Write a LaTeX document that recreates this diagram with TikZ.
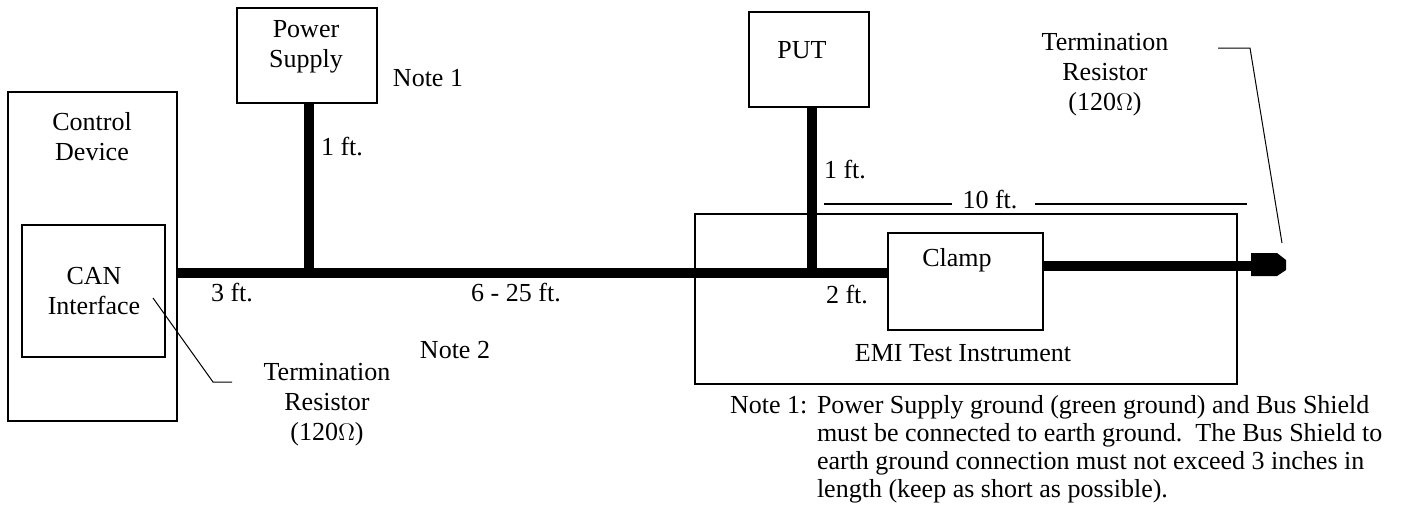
\documentclass[tikz,border=0pt]{standalone}
\usepackage{fontspec}
\setmainfont{Liberation Serif}
\begin{document}
\begin{tikzpicture}[x=0.5pt,y=-0.5pt,
  every node/.style={inner sep=0pt, outer sep=0pt, font=\fontsize{13pt}{15pt}\selectfont},
  box/.style={draw, line width=1.4pt},
  lbl/.style={align=center},
  bus/.style={line width=5pt, line cap=butt},
  dimline/.style={line width=1pt},
  leader/.style={line width=0.5pt}]
\useasboundingbox (0,0) rectangle (1413,510);

% boxes
\node[box, minimum width=84.5pt, minimum height=164.5pt] (ctrl) at (92.5,256.5) {};
\node[box, minimum width=71.5pt, minimum height=66pt] (can) at (93.5,291) {};
\node[box, minimum width=70pt, minimum height=47.5pt] (psu) at (307,55.5) {};
\node[box, minimum width=60pt, minimum height=47.5pt] (put) at (809,59.5) {};
\node[box, minimum width=271pt, minimum height=85pt] (emi) at (966,299) {};
\node[box, minimum width=77.5pt, minimum height=48.5pt, fill=white] (clamp) at (965.5,281.5) {};

% junctions
\coordinate (j1) at (309,273);
\coordinate (j2) at (812,273);
\coordinate (conn) at (1251,266);

% bus
\draw[bus] (ctrl.east |- j1) -- (clamp.west |- j1);
\draw[bus] (j1 |- psu.south) -- (j1);
\draw[bus] (j2 |- put.south) -- (j2);
\draw[bus] (clamp.east |- conn) -- (conn);

% terminator plug
\fill (1251,253) -- (1277,253) -- (1286,260) -- (1286,270) -- (1277,276) -- (1251,276) -- cycle;

% labels
\node[lbl] (tctrl) at (92,137) {Control\\Device};
\node[lbl] (tcan) at (94,291) {CAN\\Interface};
\node[lbl] (tpsu) at (306,47) {Power\\Supply};
\node (note1a) at (428,78) {Note 1};
\node (ft1a) at (342,147) {1 ft.};
\node (tput) at (802,50) {PUT};
\node (ft1b) at (845,170) {1 ft.};
\node (ft3) at (232,293) {3 ft.};
\node (ft625) at (516,293) {6 - 25 ft.};
\node (note2) at (455,350) {Note 2};
\node[lbl] (termL) at (327,405) {Termination\\Resistor\\(120$\Omega$)};
\node (ft2) at (847,295) {2 ft.};
\node (tclamp) at (957,260) {Clamp};
\node (temi) at (963,353) {EMI Test Instrument};
\node (ft10) at (990,200) {10 ft.};
\node[lbl] (termR) at (1105,75) {Termination\\Resistor\\(120$\Omega$)};

% 10 ft dimension
\coordinate (d1) at (824,204);
\coordinate (d2) at (952,204);
\coordinate (d3) at (1035,204);
\coordinate (d4) at (1247,204);
\draw[dimline] (d1) -- (d2);
\draw[dimline] (d3) -- (d4);

% leaders
\coordinate (la) at (153,298);
\coordinate (lb) at (213,382);
\coordinate (lc) at (232,382);
\draw[leader] (la) -- (lb) -- (lc);
\coordinate (ra) at (1218,48);
\coordinate (rb) at (1250,48);
\coordinate (rc) at (1282,243);
\draw[leader] (ra) -- (rb) -- (rc);

% note text
\node[anchor=base west] (nlab) at (730,413) {Note 1:};
\node[anchor=base west] (nl1) at (817,413) {Power Supply ground (green ground) and Bus Shield};
\node[anchor=base west] (nl2) at (817,441) {must be connected to earth ground.\ \ The Bus Shield to};
\node[anchor=base west] (nl3) at (817,469) {earth ground connection must not exceed 3 inches in};
\node[anchor=base west] (nl4) at (817,497) {length (keep as short as possible).};
\end{tikzpicture}
\end{document}
